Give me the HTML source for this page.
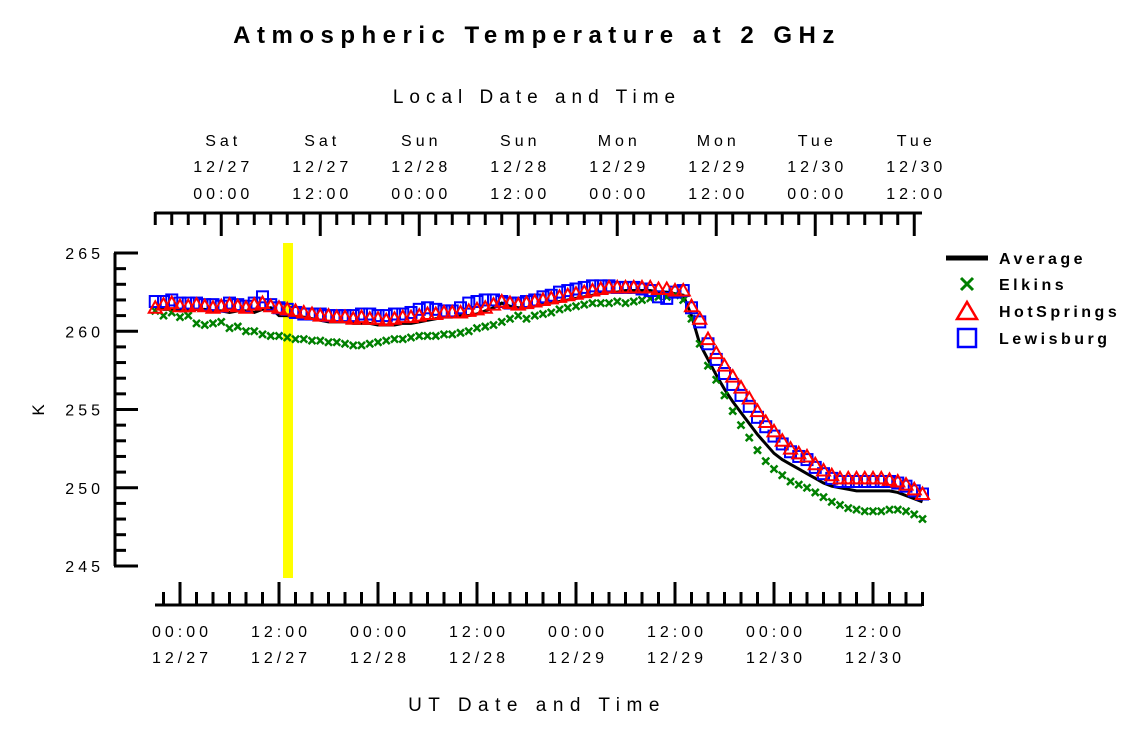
<!DOCTYPE html>
<html><head><meta charset="utf-8"><style>
body{margin:0;background:#fff}
svg{display:block;font-family:"Liberation Sans",sans-serif}
</style></head><body>
<svg id="c" width="1125" height="731" xmlns="http://www.w3.org/2000/svg">
<rect width="1125" height="731" fill="#fff"/>
<text x="537" y="43" text-anchor="middle" font-size="24" font-weight="bold" letter-spacing="6.5">Atmospheric Temperature at 2 GHz</text>
<text x="537" y="103" text-anchor="middle" font-size="19" letter-spacing="6">Local Date and Time</text>
<text x="537" y="711" text-anchor="middle" font-size="19" letter-spacing="6.5">UT Date and Time</text>
<text x="44" y="410" text-anchor="middle" font-size="17" transform="rotate(-90 44 410)">K</text>
<rect x="283" y="243" width="10" height="335" fill="#ffff00"/>
<g id="axes"></g>
<g id="plot"></g>
<g id="legend"></g>
</svg>
<script>
const hours=[];for(let h=-3;h<=90;h++)hours.push(h);
const avgVals=[261.5,261.4,261.4,261.3,
261.3,261.4,261.4,261.3,261.3,261.2,261.3,261.3,261.2,261.4,261.5,
261.0,261.0,260.9,260.9,260.8,260.7,260.6,260.6,260.6,260.5,260.5,260.5,
260.4,260.4,260.4,260.5,260.5,260.6,260.7,260.8,260.9,260.9,261.0,261.0,
261.1,261.3,261.5,261.8,261.6,261.5,261.5,261.6,261.7,261.8,261.9,262.0,
262.1,262.2,262.3,262.4,262.5,262.5,262.6,262.6,262.6,262.6,262.5,262.5,
262.4,262.3,261.0,259.2,258.2,257.2,256.3,255.5,254.8,254.1,253.4,252.8,
252.2,251.8,251.5,251.2,250.9,250.6,250.3,250.1,250.0,249.9,249.8,249.8,
249.8,249.8,249.8,249.7,249.5,249.3,249.1];
const hotVals=[261.5,261.7,261.8,261.6,
261.6,261.7,261.6,261.5,261.6,261.7,261.6,261.5,261.7,261.8,261.6,
261.5,261.4,261.3,261.2,261.1,261.0,261.0,260.9,260.9,260.8,260.9,260.8,
260.8,260.7,260.8,260.9,260.9,261.0,261.1,261.1,261.2,261.2,261.2,261.3,
261.4,261.5,261.7,261.9,261.8,261.7,261.8,261.9,262.0,262.1,262.2,262.3,
262.4,262.5,262.6,262.7,262.8,262.8,262.8,262.8,262.8,262.8,262.7,262.7,
262.6,262.6,261.6,260.8,259.5,258.6,257.8,257.1,256.4,255.7,254.9,254.2,
253.6,253.0,252.5,252.2,252.0,251.5,251.1,250.8,250.6,250.6,250.6,250.6,
250.6,250.6,250.5,250.4,250.2,249.9,249.6];
const lewVals=[261.9,261.9,262.0,261.8,
261.8,261.8,261.7,261.7,261.6,261.8,261.7,261.6,261.8,262.2,261.7,
261.5,261.4,261.2,261.1,261.1,261.1,261.0,261.0,261.0,261.0,261.1,261.1,
261.0,261.0,261.1,261.1,261.2,261.4,261.5,261.4,261.3,261.3,261.5,261.8,
261.9,262.0,262.0,261.9,261.8,261.8,261.9,262.0,262.2,262.3,262.5,262.6,
262.7,262.8,262.9,262.9,262.9,262.8,262.8,262.8,262.7,262.6,262.2,262.1,
262.5,262.6,261.5,260.6,259.2,258.2,257.3,256.6,255.9,255.2,254.5,253.9,
253.3,252.8,252.3,252.0,251.8,251.3,250.9,250.6,250.4,250.4,250.4,250.4,
250.4,250.4,250.4,250.3,250.1,249.8,249.6];
const elkVals=[261.3,261.0,261.2,260.9,
261.0,260.5,260.4,260.5,260.6,260.2,260.3,260.0,260.0,259.8,259.7,
259.7,259.6,259.5,259.5,259.4,259.4,259.3,259.3,259.2,259.1,259.1,259.2,
259.3,259.4,259.5,259.5,259.6,259.7,259.7,259.7,259.8,259.8,259.9,260.0,
260.2,260.3,260.4,260.6,260.8,261.0,260.8,261.0,261.1,261.2,261.4,261.5,
261.6,261.7,261.8,261.8,261.8,261.9,261.8,261.9,262.0,262.1,262.2,262.2,
262.3,262.0,260.8,259.2,257.8,256.9,255.9,254.9,254.0,253.2,252.4,251.7,
251.2,250.8,250.4,250.2,250.0,249.7,249.4,249.1,248.9,248.7,248.6,248.5,
248.5,248.5,248.6,248.6,248.5,248.3,248.0];
const yTicks=[245,250,255,260,265];
const utTimes=["00:00","12:00","00:00","12:00","00:00","12:00","00:00","12:00"];
const utDates=["12/27","12/27","12/28","12/28","12/29","12/29","12/30","12/30"];
const locDays=["Sat","Sat","Sun","Sun","Mon","Mon","Tue","Tue"];
const locDates=["12/27","12/27","12/28","12/28","12/29","12/29","12/30","12/30"];
const locTimes=["00:00","12:00","00:00","12:00","00:00","12:00","00:00","12:00"];

const NS="http://www.w3.org/2000/svg";
const X=h=>180+h*8.25;
const Y=t=>331.25-(t-260)*15.65;
function mk(tag,attrs,parent){const e=document.createElementNS(NS,tag);for(const k in attrs)e.setAttribute(k,attrs[k]);parent.appendChild(e);return e;}
const axes=document.getElementById('axes'),plot=document.getElementById('plot'),leg=document.getElementById('legend');

let e=mk('line',{x1:115,y1:Y(265),x2:115,y2:Y(245),stroke:'#000','stroke-width':3},axes);


for(let t=245;t<=265;t++){const maj=t%5===0;
 e=mk('line',{x1:114,y1:Y(t),x2:maj?138:126,y2:Y(t),stroke:'#000','stroke-width':3},axes);
 
 }
yTicks.forEach(t=>{e=mk('text',{x:104,y:Y(t)+6,'text-anchor':'end','font-size':16,'letter-spacing':4},axes);e.textContent=t;
 
 });

e=mk('line',{x1:155,y1:605,x2:922,y2:605,stroke:'#000','stroke-width':3},axes);


for(let h=-2;h<=90;h+=2){const maj=h%12===0;
 e=mk('line',{x1:X(h),y1:606,x2:X(h),y2:maj?582:592,stroke:'#000','stroke-width':3},axes);
 
 }
utTimes.forEach((s,i)=>{const x=X(i*12)+2;
 e=mk('text',{x:x,y:637,'text-anchor':'middle','font-size':16,'letter-spacing':4},axes);e.textContent=s;
 
 
 e=mk('text',{x:x,y:663,'text-anchor':'middle','font-size':16,'letter-spacing':4},axes);e.textContent=utDates[i];
 
 });

e=mk('line',{x1:155,y1:213,x2:922,y2:213,stroke:'#000','stroke-width':3},axes);


for(let h=-3;h<=90;h+=2){const maj=(h-5)%12===0;
 e=mk('line',{x1:X(h),y1:212,x2:X(h),y2:maj?236:225,stroke:'#000','stroke-width':3},axes);
 
 }
locDays.forEach((s,i)=>{const x=X(5+i*12)+2;
 [[s,146],[locDates[i],172],[locTimes[i],199]].forEach(([txt,y])=>{
  e=mk('text',{x:x,y:y,'text-anchor':'middle','font-size':16,'letter-spacing':4},axes);e.textContent=txt;
  
  });});

e=mk('polyline',{points:hours.map((h,i)=>X(h)+','+Y(avgVals[i])).join(' '),fill:'none',stroke:'#000','stroke-width':3},plot);


function xMark(x,y,g){mk('path',{d:`M${x-3.5},${y-3.5}L${x+3.5},${y+3.5}M${x+3.5},${y-3.5}L${x-3.5},${y+3.5}`,stroke:'#008000','stroke-width':2.5,fill:'none'},g);}
function sq(x,y,g){mk('rect',{x:x-5.5,y:y-5.5,width:11,height:11,fill:'none',stroke:'#0000ff','stroke-width':2},g);}
function tri(x,y,g){mk('path',{d:`M${x},${y-6.5}L${x+6.5},${y+5}L${x-6.5},${y+5}Z`,fill:'none',stroke:'#ff0000','stroke-width':2},g);}
hours.forEach((h,i)=>{const g=mk('g',{},plot);xMark(X(h),Y(elkVals[i]),g);
 
 });
hours.forEach((h,i)=>{const g=mk('g',{},plot);sq(X(h),Y(lewVals[i]),g);
 
 });
hours.forEach((h,i)=>{const g=mk('g',{},plot);tri(X(h),Y(hotVals[i]),g);
 
 });

const entries=[['Average',258],['Elkins',284],['HotSprings',311],['Lewisburg',338]];
entries.forEach(([n,y],i)=>{const g=mk('g',{},leg);
 
 
 if(i===0)mk('line',{x1:946,y1:y,x2:988,y2:y,stroke:'#000','stroke-width':5},g);
 if(i===1)mk('path',{d:`M961,${y-6}L973,${y+6}M973,${y-6}L961,${y+6}`,stroke:'#008000','stroke-width':3},g);
 if(i===2)mk('path',{d:`M967,${y-9}L977,${y+8}L957,${y+8}Z`,fill:'none',stroke:'#ff0000','stroke-width':2.5},g);
 if(i===3)mk('rect',{x:958,y:y-9,width:18,height:18,fill:'none',stroke:'#0000ff','stroke-width':2.5},g);
 const t=mk('text',{x:999,y:y+6,'font-size':16,'font-weight':'bold','letter-spacing':3.5},g);t.textContent=n;});
</script>
</body></html>
